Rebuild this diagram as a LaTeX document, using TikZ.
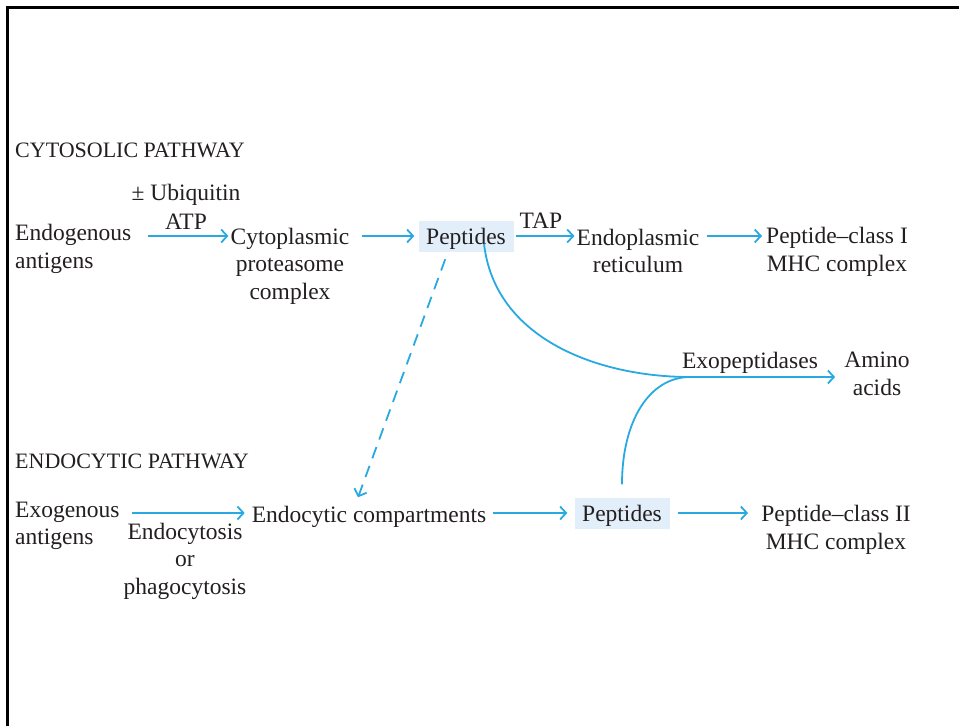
\documentclass[tikz,border=0pt]{standalone}
\usepackage{fontspec}
\setmainfont{Liberation Serif}
\usepackage{xcolor}
\usepackage{tikz}
\usetikzlibrary{arrows.meta,positioning,calc}
\definecolor{arrowcol}{HTML}{29A9E1}
\definecolor{pepbg}{HTML}{E2EFFA}
\definecolor{txtcol}{HTML}{231F20}

\begin{document}
\begin{tikzpicture}[
  x=1pt,y=-1pt,
  font=\fontsize{23.5}{27.5}\selectfont,
  every node/.style={text=txtcol,inner sep=2pt},
  lbl/.style={align=center},
  lbll/.style={align=left,anchor=west},
  head/.style={anchor=west,font=\fontsize{22}{26}\selectfont},
  pepbox/.style={fill=pepbg,minimum width=95pt,minimum height=31pt,inner sep=0pt,
                 text depth=0pt},
  ar/.style={-{Straight Barb[length=6pt,width=13pt,line width=1.8pt]},line width=1.8pt,arrowcol},
  dar/.style={ar,dash pattern=on 12pt off 8pt},
]
\useasboundingbox (0,0) rectangle (959,726);
\draw[line width=3pt] (7,726) -- (7,7) -- (959,7);

% cytosolic pathway
\node[head] (head1) at (13,150) {CYTOSOLIC PATHWAY};
\node[lbll] (endog) at (13,249) {Endogenous\\antigens};
\node[lbl] (ubiq) at (186,195) {± Ubiquitin};
\node[lbl] (atp) at (186,222) {ATP};
\node[lbl] (cyto) at (290,266) {Cytoplasmic\\proteasome\\complex};
\node[pepbox] (pep1) at (466,236) {Peptides};
\node[lbl] (tap) at (541,221) {TAP};
\node[lbl] (er) at (638,251) {Endoplasmic\\reticulum};
\node[lbl] (mhc1) at (837,252) {Peptide--class I\\MHC complex};
\node[lbl] (exo) at (750,363) {Exopeptidases};
\node[lbl] (amino) at (877,374) {Amino\\acids};

% endocytic pathway
\node[head] (head2) at (13,461) {ENDOCYTIC PATHWAY};
\node[lbll] (exog) at (13,526) {Exogenous\\antigens};
\node[lbl] (endocyt) at (185,561) {Endocytosis\\or\\phagocytosis};
\node[lbl] (comp) at (369,517) {Endocytic compartments};
\node[pepbox] (pep2) at (622,513) {Peptides};
\node[lbl] (mhc2) at (836,530) {Peptide--class II\\MHC complex};

\coordinate (join) at (690,377);

\draw[ar,shorten <=14pt] (endog.east |- pep1) -- (cyto.west |- pep1);
\draw[ar,shorten <=10pt,shorten >=4pt] (cyto.east |- pep1) -- (pep1.west);
\draw[ar,shorten <=2pt] (pep1.east) -- (er.west |- pep1);
\draw[ar,shorten <=5pt,shorten >=2pt] (er.east |- pep1) -- (mhc1.west |- pep1);

\draw[ar,shorten <=10pt,shorten >=5pt] (exog.east |- pep2) -- (comp.west |- pep2);
\draw[ar,shorten <=5pt,shorten >=7pt] (comp.east |- pep2) -- (pep2.west);
\draw[ar,shorten <=8pt,shorten >=11pt] (pep2.east) -- (mhc2.west |- pep2);

\draw[dar,shorten <=8pt,shorten >=3pt] ([xshift=-18pt]pep1.south) -- ([xshift=-12pt,yshift=4pt]comp.north);

\draw[ar,shorten >=7pt] ([xshift=18pt,yshift=8pt]pep1.south)
  .. controls (495,340) and (600,377) .. (join) -- (amino.west |- join);
\draw[line width=1.8pt,arrowcol,shorten <=13pt] (pep2.north)
  .. controls (622,420) and (650,377) .. (join);
\end{tikzpicture}
\end{document}
